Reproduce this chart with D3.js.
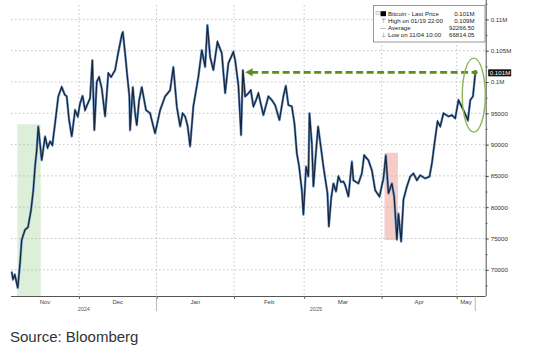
<!DOCTYPE html>
<html><head><meta charset="utf-8">
<script src="https://cdn.jsdelivr.net/npm/d3@7"></script>
<style>body{margin:0;background:#fff}svg{display:block}text{font-family:"Liberation Sans",Arial,sans-serif}</style>
</head><body><svg id="c" width="538" height="349"></svg>
<script>
// ---- data ----
const dates = ["2024-11-04 02","2024-11-04 14","2024-11-05 08","2024-11-06 12","2024-11-07 10","2024-11-08 02","2024-11-09 10","2024-11-10 14","2024-11-11 19","2024-11-12 17","2024-11-13 10","2024-11-14 02","2024-11-14 17","2024-11-16 02","2024-11-17 10","2024-11-18 10","2024-11-19 10","2024-11-20 08","2024-11-21 10","2024-11-22 17","2024-11-24 02","2024-11-25 06","2024-11-26 02","2024-11-27 00","2024-11-28 02","2024-11-29 10","2024-11-30 12","2024-12-01 10","2024-12-02 10","2024-12-03 10","2024-12-04 10","2024-12-05 10","2024-12-06 08","2024-12-07 03","2024-12-08 02","2024-12-09 00","2024-12-10 02","2024-12-11 10","2024-12-12 17","2024-12-13 20","2024-12-15 10","2024-12-16 14","2024-12-18 02","2024-12-18 12","2024-12-19 10","2024-12-20 08","2024-12-21 03","2024-12-21 10","2024-12-22 12","2024-12-23 10","2024-12-24 02","2024-12-25 00","2024-12-26 02","2024-12-27 19","2024-12-29 10","2024-12-30 08","2024-12-31 10","2025-01-02 10","2025-01-04 10","2025-01-06 10","2025-01-07 17","2025-01-09 02","2025-01-10 10","2025-01-11 10","2025-01-12 10","2025-01-13 10","2025-01-14 10","2025-01-15 17","2025-01-17 17","2025-01-19 02","2025-01-20 10","2025-01-21 08","2025-01-22 10","2025-01-23 17","2025-01-25 08","2025-01-27 02","2025-01-28 10","2025-01-29 17","2025-01-31 17","2025-02-01 10","2025-02-02 17","2025-02-03 19","2025-02-04 12","2025-02-05 10","2025-02-06 17","2025-02-07 16","2025-02-08 17","2025-02-09 16","2025-02-10 17","2025-02-12 17","2025-02-14 17","2025-02-16 02","2025-02-17 10","2025-02-19 03","2025-02-20 17","2025-02-21 16","2025-02-22 17","2025-02-24 02","2025-02-25 03","2025-02-26 02","2025-02-27 00","2025-02-28 02","2025-02-28 17","2025-03-01 19","2025-03-02 17","2025-03-03 03","2025-03-04 02","2025-03-04 17","2025-03-05 19","2025-03-06 14","2025-03-07 16","2025-03-08 17","2025-03-10 08","2025-03-10 21","2025-03-11 20","2025-03-12 17","2025-03-13 18","2025-03-14 17","2025-03-15 18","2025-03-16 17","2025-03-17 10","2025-03-18 17","2025-03-20 02","2025-03-20 17","2025-03-22 17","2025-03-24 02","2025-03-25 00","2025-03-26 17","2025-03-28 02","2025-03-29 10","2025-03-31 03","2025-04-01 17","2025-04-02 16","2025-04-03 17","2025-04-05 02","2025-04-06 00","2025-04-07 02","2025-04-07 17","2025-04-08 19","2025-04-09 17","2025-04-11 02","2025-04-12 10","2025-04-13 17","2025-04-15 02","2025-04-16 10","2025-04-18 10","2025-04-20 03","2025-04-21 02","2025-04-22 03","2025-04-23 08","2025-04-24 10","2025-04-25 17","2025-04-27 17","2025-04-29 02","2025-04-30 10","2025-05-01 17","2025-05-03 17","2025-05-05 12","2025-05-06 10","2025-05-07 12","2025-05-08 10"];
const prices = [69700,68500,69200,67100,71100,74800,76400,76800,79500,82700,86500,89100,92900,87500,91300,89500,90500,89900,93400,97700,99200,98000,97700,94000,91300,95500,94500,96600,97800,95500,96500,97400,103500,92300,100000,100800,99000,94500,101400,100800,101900,104500,107500,108000,104600,100800,97700,92300,99200,95000,93100,97000,99200,95500,95000,93500,91800,95500,97700,98700,102400,96100,92900,95000,94500,93000,89700,96100,100800,105100,102400,109100,104000,101900,106400,104600,98200,103000,104800,103500,99500,91500,101900,97700,98200,98700,96100,97000,98200,94700,97700,97100,96300,93900,97700,99400,96300,96100,93400,88600,86500,82700,78800,86500,84900,95000,90200,83300,89100,92900,89700,86500,82200,76900,81500,83800,82500,84900,84000,84100,83500,81700,87300,84300,83800,85400,88300,87500,85900,82700,81700,84600,88300,82200,83800,81700,74800,79000,74500,81200,83300,84900,85400,84300,85100,84600,84900,87000,90200,93700,92900,95000,94500,94700,94200,97100,95500,93900,97100,97700,101400];

const yTicks = [70000,75000,80000,85000,90000,95000,100000,105000,110000];
const yTickLabels = ["70000","75000","80000","85000","90000","95000","0.1M","0.105M","0.11M"];
const monthStarts = ["2024-12-01","2025-01-01","2025-02-01","2025-03-01","2025-04-01","2025-05-01"];
const monthLabels = ["Nov","Dec","Jan","Feb","Mar","Apr","May"];
const yearLabels = ["2024","2025"];
const lastPrice = 101500, lastLabel = "0.101M";
const legendRows = [
  ["Bitcoin - Last Price","0.101M"],
  ["High on 01/19 22:00","0.109M"],
  ["Average","92266.50"],
  ["Low on 11/04 10:00","66814.05"]
];
const greenBand = ["2024-11-06 08","2024-11-15 16",93250];
const redBand = ["2025-04-02 03","2025-04-07 12",88700,74760];
const arrowFrom = "2025-02-05 10", arrowTo = "2025-05-08 10", arrowLevel = 101550;
const ellipseAt = ["2025-05-07 20", 97900];

// ---- layout ----
const svg = d3.select("#c");
const L = 11, R = 485.7, T = 1, B = 296;
const parseH = d3.utcParse("%Y-%m-%d %H"), parseD = d3.utcParse("%Y-%m-%d");
const x = d3.scaleUtc().domain([parseD("2024-11-01"), parseD("2025-05-01")]).range([4, 456.7]);
const y = d3.scaleLinear().domain([65815, 113100]).range([B, 0]);
const data = dates.map((d,i)=>({d:parseH(d), v:prices[i]}));
const xEnd = x(data[data.length-1].d);

// bands
svg.append("rect").attr("x",x(parseH(greenBand[0]))).attr("y",y(greenBand[2]))
  .attr("width",x(parseH(greenBand[1]))-x(parseH(greenBand[0]))).attr("height",B-y(greenBand[2]))
  .attr("fill","#ddefd8");
svg.append("rect").attr("x",x(parseH(redBand[0]))).attr("y",y(redBand[2]))
  .attr("width",x(parseH(redBand[1]))-x(parseH(redBand[0]))).attr("height",y(redBand[3])-y(redBand[2]))
  .attr("fill","#f5cdc8");

// grid
const g = svg.append("g").attr("stroke","#b5b5b5").attr("stroke-width",0.8).attr("stroke-dasharray","1.5,2.5");
yTicks.forEach(t=>g.append("line").attr("x1",L).attr("x2",R).attr("y1",y(t)).attr("y2",y(t)));
monthStarts.forEach(m=>g.append("line").attr("x1",x(parseD(m))).attr("x2",x(parseD(m))).attr("y1",5).attr("y2",B));

// price line
const line = d3.line().x(d=>x(d.d)).y(d=>y(d.v));
svg.append("path").datum(data).attr("d",line).attr("fill","none").attr("stroke","#6f95c2").attr("stroke-width",2.4).attr("stroke-linejoin","round");
svg.append("path").datum(data).attr("d",line).attr("fill","none").attr("stroke","#15243a").attr("stroke-width",1.2).attr("stroke-linejoin","miter");

// axes
const yAx = svg.append("g").attr("transform",`translate(${R},0)`)
  .call(d3.axisRight(y).tickValues(yTicks).tickSize(3).tickPadding(2).tickFormat((d,i)=>yTickLabels[i]));
yAx.select(".domain").attr("d",`M0.5,0V${B}`).attr("stroke","#555");
yAx.selectAll(".tick line").attr("stroke","#444");
yAx.selectAll("text").attr("font-size",6.2).attr("fill","#333").attr("font-family","Liberation Sans, Arial");
const minor = yTicks.slice(0,-1).map((t,i)=>(t+yTicks[i+1])/2).concat([67500,112500]);
const yMin = svg.append("g").attr("transform",`translate(${R},0)`)
  .call(d3.axisRight(y).tickValues(minor).tickSize(1.8).tickFormat(""));
yMin.select(".domain").remove();
yMin.selectAll(".tick line").attr("stroke","#555");

const xAx = svg.append("g").attr("transform",`translate(0,${B})`)
  .call(d3.axisBottom(x).tickValues(monthStarts.map(parseD)).tickSize(3).tickFormat(""));
xAx.select(".domain").attr("d",`M${L},0.5H${R}`).attr("stroke","#555");
xAx.selectAll(".tick line").attr("stroke","#666");
// year separators
[parseD("2025-01-01")].forEach(d=>svg.append("line").attr("x1",x(d)).attr("x2",x(d)).attr("y1",B).attr("y2",B+15).attr("stroke","#999").attr("stroke-width",0.7));
svg.append("line").attr("x1",xEnd).attr("x2",xEnd).attr("y1",B).attr("y2",B+15).attr("stroke","#999").attr("stroke-width",0.7);

// month labels centred in visible month intervals
const bounds = [L].concat(monthStarts.map(m=>x(parseD(m)))).concat([xEnd]);
monthLabels.forEach((m,i)=>svg.append("text").attr("x",(bounds[i]+bounds[i+1])/2).attr("y",B+7.8)
  .attr("text-anchor","middle").attr("font-size",6).attr("fill","#444").text(m));
const yb = [[L,x(parseD("2025-01-01"))],[x(parseD("2025-01-01")),xEnd]];
yearLabels.forEach((t,i)=>svg.append("text").attr("x",(yb[i][0]+yb[i][1])/2).attr("y",B+15)
  .attr("text-anchor","middle").attr("font-size",5.5).attr("fill","#555").text(t));

// last price label
const ly = y(lastPrice)+0.3;
svg.append("rect").attr("x",R+2.5).attr("y",ly-3.6).attr("width",23).attr("height",7).attr("fill","#111");
svg.append("text").attr("x",R+4).attr("y",ly+2.2).attr("font-size",6.2).attr("fill","#fff").text(lastLabel);

// arrow annotation
const green = "#5f8c1a";
const ay = y(arrowLevel), ax1 = x(parseH(arrowFrom)), ax2 = x(parseH(arrowTo));
svg.append("line").attr("x1",ax1+6).attr("x2",ax2).attr("y1",ay).attr("y2",ay)
  .attr("stroke",green).attr("stroke-width",2.8).attr("stroke-dasharray","7,3.5");
svg.append("path").attr("d",`M${ax1},${ay}L${ax1+7.5},${ay-4}L${ax1+7.5},${ay+4}Z`).attr("fill",green);
svg.append("circle").attr("cx",ax2).attr("cy",ay).attr("r",2.4).attr("fill",green);
svg.append("ellipse").attr("cx",x(parseH(ellipseAt[0]))).attr("cy",y(ellipseAt[1])).attr("rx",11.5).attr("ry",37)
  .attr("fill","none").attr("stroke","#8db457").attr("stroke-width",1.4);

// legend
const lg = svg.append("g");
lg.append("rect").attr("x",373.5).attr("y",5.5).attr("width",111.5).attr("height",36.5).attr("fill","#fff").attr("stroke","#8d8d8d").attr("stroke-width",0.9);
lg.append("rect").attr("x",376).attr("y",11.5).attr("width",3).attr("height",3).attr("fill","none").attr("stroke","#999").attr("stroke-width",0.5);
lg.append("rect").attr("x",380.5).attr("y",11.2).attr("width",5.5).attr("height",5).attr("fill","#000");
const sym = ["","⊤","—","⊥"];
legendRows.forEach((r,i)=>{
  const yy = 16.2 + i*6.9;
  if(sym[i]) lg.append("text").attr("x",383).attr("y",yy).attr("font-size",5.5).attr("text-anchor","middle").attr("fill","#555").attr("font-family","DejaVu Sans").text(sym[i]);
  lg.append("text").attr("x",388).attr("y",yy).attr("font-size",6.1).attr("fill","#222").text(r[0]);
  lg.append("text").attr("x",474.5).attr("y",yy).attr("font-size",6.1).attr("fill","#222").attr("text-anchor","end").text(r[1]);
});

// source
svg.append("text").attr("x",10).attr("y",342).attr("font-size",15).attr("fill","#333").text("Source: Bloomberg");
</script></body></html>
